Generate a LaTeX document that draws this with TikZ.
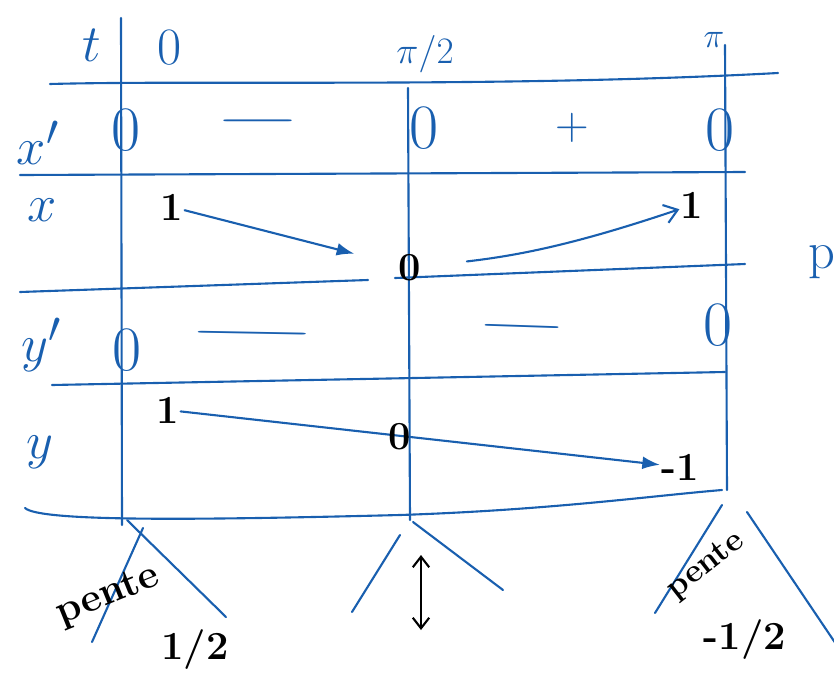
\documentclass[tikz,border=0pt]{standalone}
\usepackage{amsmath}
\usetikzlibrary{arrows.meta}
\definecolor{encre}{RGB}{25,95,175}
\tikzset{
  trait/.style={draw=encre, line width=1.8pt, line cap=round},
  bleu/.style={text=encre, inner sep=0pt, font=\Huge, scale=1.8},
  zerobleu/.style={text=encre, inner sep=0pt, font=\fontsize{54}{58}\selectfont},
  signe/.style={text=encre, inner sep=0pt, font=\Huge, scale=1.6},
  noir/.style={text=black, inner sep=1pt, font=\fontsize{34}{38}\selectfont\bfseries},
  fleche/.style={trait, -{Latex[length=15pt,width=11pt]}},
  ouverte/.style={trait, -{Straight Barb[length=11pt,width=16pt,line width=1.8pt]}}
}
\begin{document}
\begin{tikzpicture}[x=0.03cm, y=-0.03cm]
    \useasboundingbox (0,0) rectangle (834,695);
    % Lines of the table.
    \draw[trait] (121,18) -- (122,525);
    \draw[trait] (408,88) -- (410,520);
    \draw[trait] (725,45) -- (727,490);
    \draw[trait] (50,84) .. controls (200,80) and (500,88) .. (778,73);
    \draw[trait] (20,175) -- (745,172);
    \draw[trait] (20,292) -- (368,280);
    \draw[trait] (395,278) -- (745,264);
    \draw[trait] (52,385) -- (725,372);
    \draw[trait] (25,508) .. controls (40,522) and (200,520) .. (400,515)
                          .. controls (550,510) and (650,496) .. (722,490);
    % Header.
    \node[bleu] (t)     at (92,45)  {$t$};
    \node[bleu] (tzero) at (170,48) {$0$};
    \node[signe, scale=0.8] (tmid) at (425,54) {$\pi/2$};
    \node[signe, scale=0.75] (tpi)  at (714,40) {$\pi$};
    % Row labels.
    \node[bleu] (lxp) at (38,143)  {$x'$};
    \node[bleu] (lx)  at (42,210)  {$x$};
    \node[bleu] (lyp) at (42,345)  {$y'$};
    \node[bleu] (ly)  at (40,452)  {$y$};
    % Row x'.
    \node[zerobleu] (xpa) at (126,130) {0};
    \node[signe, xscale=2.4] (xpm) at (258,121) {$-$};
    \node[zerobleu] (xpb) at (424,128) {0};
    \node[signe] (xpp) at (572,128) {$+$};
    \node[zerobleu] (xpc) at (720,130) {0};
    % Row x.
    \node[noir] (xa) at (172,207) {1};
    \node[noir] (xb) at (410,268) {0};
    \node[noir] (xc) at (692,205) {1};
    \draw[fleche, shorten >=38pt] (xa) -- (xb);
    \draw[ouverte, shorten <=38pt] (xb) to[bend right=6] (xc);
    % Row y'.
    \node[zerobleu] (ypa) at (127,350) {0};
    \node[signe, xscale=3.8, rotate=-4] (ypm) at (252,333) {$-$};
    \node[signe, xscale=2.6, rotate=-5] (ypn) at (522,326) {$-$};
    \node[zerobleu] (ypb) at (718,325) {0};
    % Row y.
    \node[noir] (ya) at (168,410) {1};
    \node[noir] (yc) at (680,467) {-1};
    \draw[fleche] (ya) -- (yc);
    \node[noir] (yb) at (400,437) {0};
    % Tangents.
    \draw[trait] (143,528) -- (92,642);
    \draw[trait] (127,520) -- (226,617);
    \draw[trait] (400,535) -- (352,612);
    \draw[trait] (413,522) -- (503,590);
    \draw[trait] (722,505) -- (655,613);
    \draw[trait] (747,512) -- (840,650);
    \draw[line width=1.8pt, {Straight Barb[length=9pt,width=14pt]}-{Straight Barb[length=9pt,width=14pt]}] (421,555) -- (421,630);
    \node[noir, rotate=22] (pa) at (108,596) {pente};
    \node[noir] (pb) at (195,650) {1/2};
    \node[noir, font=\fontsize{28}{32}\selectfont\bfseries, rotate=38] (pc) at (706,566) {pente};
    \node[noir] (pd) at (745,640) {-1/2};
    \node[bleu] (p) at (822,262) {p};
\end{tikzpicture}
\end{document}
